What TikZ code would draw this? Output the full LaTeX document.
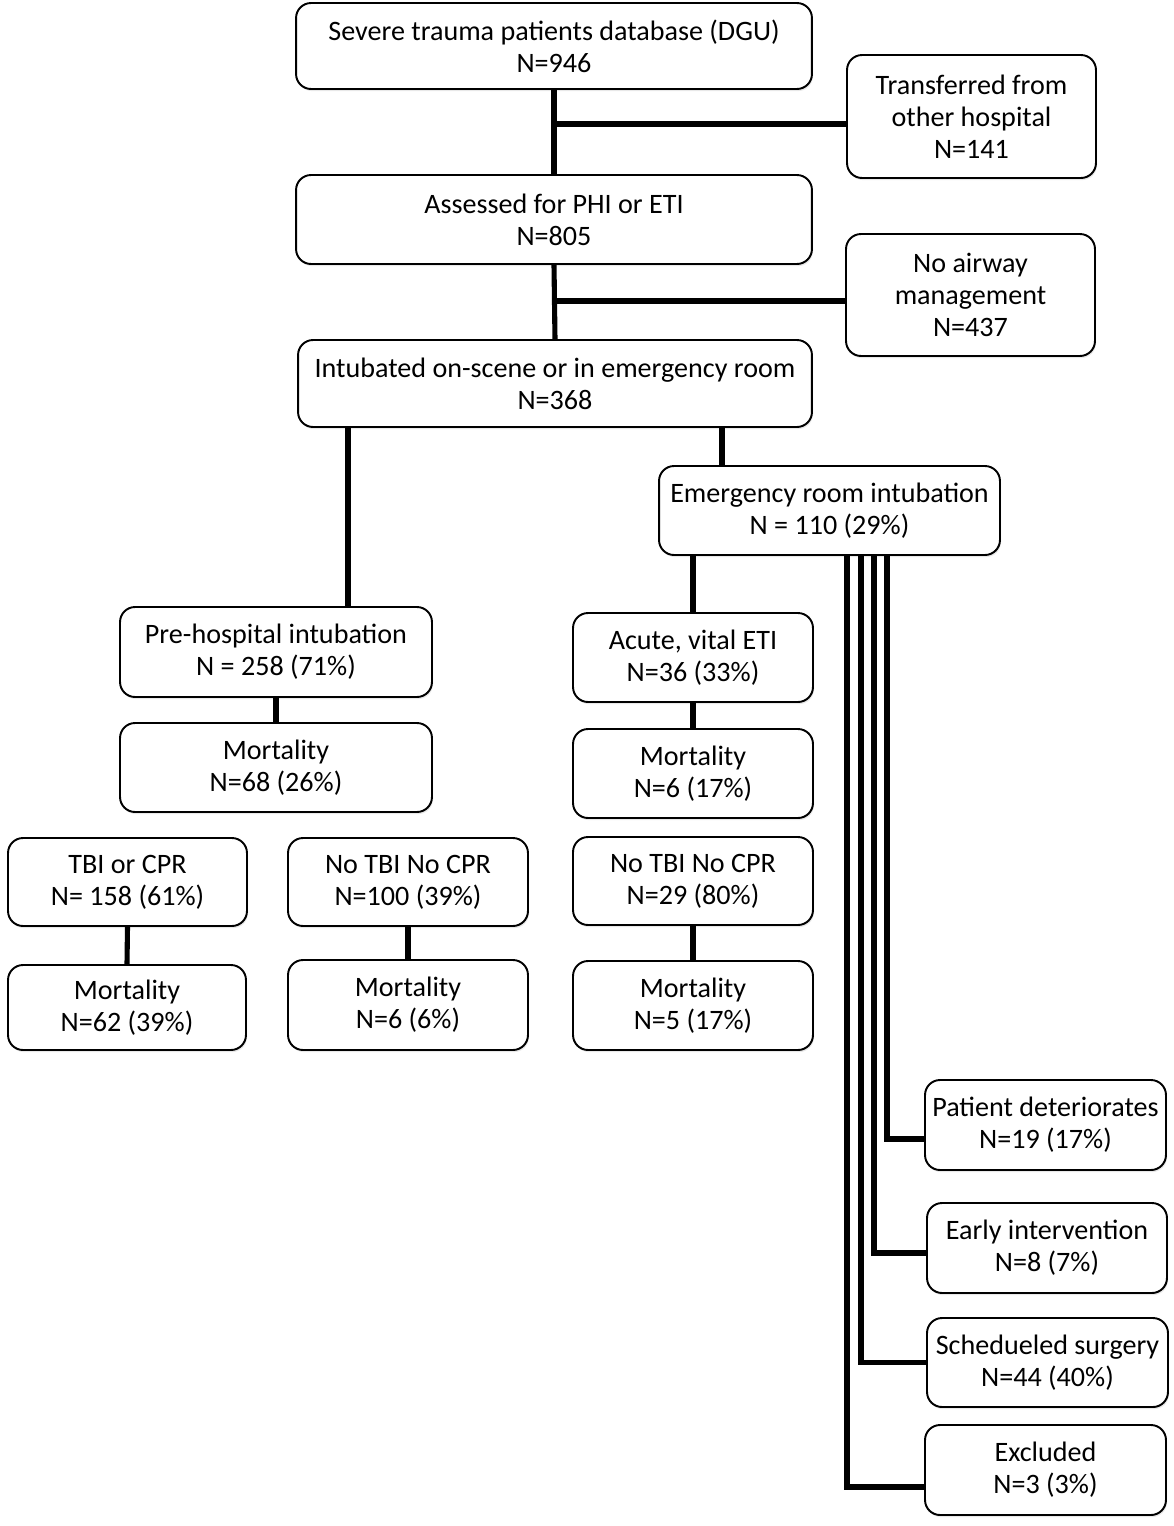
\documentclass[tikz,border=0pt]{standalone}
\usepackage{fontspec}
\setmainfont{Carlito}
\usepackage{tikz}
\usetikzlibrary{calc,shadows}

\begin{document}
\begin{tikzpicture}[x=0.02cm, y=-0.02cm,
  flowbox/.style={draw, line width=1.1pt, rounded corners=0.3cm, fill=white,
    align=center, inner sep=0pt,
    font=\fontsize{16}{18.3}\selectfont,
    drop shadow={shadow xshift=0.6pt, shadow yshift=-1.2pt, opacity=0.18}},
  link/.style={line width=2.9pt}]
\useasboundingbox (0,0) rectangle (1174,1526);
\node[flowbox, minimum width=10.32cm, minimum height=1.72cm] (db) at (554,46)
      {Severe trauma patients database (DGU)\\N=946};
\node[flowbox, minimum width=4.98cm, minimum height=2.46cm] (transf) at (971.5,116.5)
      {Transferred from\\other hospital\\N=141};
\node[flowbox, minimum width=10.32cm, minimum height=1.78cm] (assess) at (554,219.5)
      {Assessed for PHI or ETI\\N=805};
\node[flowbox, minimum width=4.98cm, minimum height=2.44cm] (noair) at (970.5,295)
      {No airway\\management\\N=437};
\node[flowbox, minimum width=10.28cm, minimum height=1.74cm] (intub) at (555,383.5)
      {Intubated on-scene or in emergency room\\N=368};
\node[flowbox, minimum width=6.82cm, minimum height=1.78cm] (er) at (829.5,510.5)
      {Emergency room intubation\\N = 110 (29\%)};
\node[flowbox, minimum width=6.24cm, minimum height=1.80cm] (pre) at (276,652)
      {Pre-hospital intubation\\N = 258 (71\%)};
\node[flowbox, minimum width=6.24cm, minimum height=1.78cm] (premort) at (276,767.5)
      {Mortality\\N=68 (26\%)};
\node[flowbox, minimum width=4.78cm, minimum height=1.76cm] (tbi) at (127.5,882)
      {TBI or CPR\\N= 158 (61\%)};
\node[flowbox, minimum width=4.80cm, minimum height=1.76cm] (notbi) at (408,882)
      {No TBI No CPR\\N=100 (39\%)};
\node[flowbox, minimum width=4.76cm, minimum height=1.70cm] (tbimort) at (127,1007.5)
      {Mortality\\N=62 (39\%)};
\node[flowbox, minimum width=4.80cm, minimum height=1.80cm] (notbimort) at (408,1005)
      {Mortality\\N=6 (6\%)};
\node[flowbox, minimum width=4.80cm, minimum height=1.78cm] (acute) at (693,657.5)
      {Acute, vital ETI\\N=36 (33\%)};
\node[flowbox, minimum width=4.80cm, minimum height=1.78cm] (acutemort) at (693,773.5)
      {Mortality\\N=6 (17\%)};
\node[flowbox, minimum width=4.80cm, minimum height=1.76cm] (ernotbi) at (693,881)
      {No TBI No CPR\\N=29 (80\%)};
\node[flowbox, minimum width=4.80cm, minimum height=1.78cm] (ernotbimort) at (693,1005.5)
      {Mortality\\N=5 (17\%)};
\node[flowbox, minimum width=4.82cm, minimum height=1.80cm] (deter) at (1045.5,1125)
      {Patient deteriorates\\N=19 (17\%)};
\node[flowbox, minimum width=4.80cm, minimum height=1.80cm] (early) at (1047,1248)
      {Early intervention\\N=8 (7\%)};
\node[flowbox, minimum width=4.82cm, minimum height=1.78cm] (sched) at (1047.5,1362.5)
      {Schedueled surgery\\N=44 (40\%)};
\node[flowbox, minimum width=4.82cm, minimum height=1.80cm] (excl) at (1045.5,1470)
      {Excluded\\N=3 (3\%)};
\coordinate (j1) at (554,124);
\coordinate (j2) at (554,301);
\coordinate (ph) at (348,0);
\coordinate (eh) at (722,0);
\coordinate (k1) at (847,0);
\coordinate (k2) at (861,0);
\coordinate (k3) at (874,0);
\coordinate (k4) at (887,0);
\draw[link] (db.south) -- (assess.north);
\draw[link] (j1) -- (j1 -| transf.west);
\draw[link] (assess.south) -- (intub.north);
\draw[link] (j2) -- (j2 -| noair.west);
\draw[link] (intub.south -| ph) -- (pre.north -| ph);
\draw[link] (intub.south -| eh) -- (er.north -| eh);
\draw[link] (er.south -| acute.north) -- (acute.north);
\draw[link] (pre.south) -- (premort.north);
\draw[link] (tbi.south) -- (tbimort.north);
\draw[link] (notbi.south) -- (notbimort.north);
\draw[link] (acute.south) -- (acutemort.north);
\draw[link] (ernotbi.south) -- (ernotbimort.north);
\draw[link] (er.south -| k4) -- ([yshift=-0.28cm]deter.west -| k4) -- ([yshift=-0.28cm]deter.west);
\draw[link] (er.south -| k3) -- ([yshift=-0.10cm]early.west -| k3) -- ([yshift=-0.10cm]early.west);
\draw[link] (er.south -| k2) -- (sched.west -| k2) -- (sched.west);
\draw[link] (er.south -| k1) -- ([yshift=-0.34cm]excl.west -| k1) -- ([yshift=-0.34cm]excl.west);
\end{tikzpicture}
\end{document}
